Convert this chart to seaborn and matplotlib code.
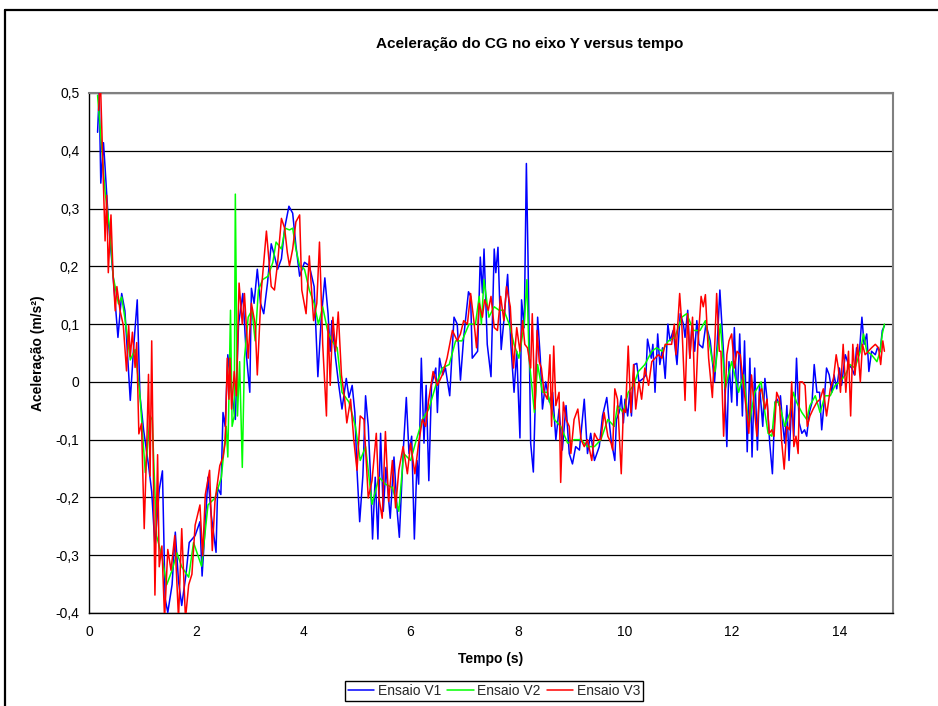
import numpy as np
import pandas as pd
import matplotlib
matplotlib.use("Agg")
import matplotlib.pyplot as plt
from matplotlib.lines import Line2D
import seaborn as sns

# ---------------- data ----------------
title = "Aceleração do CG no eixo Y versus tempo"
x_label = "Tempo (s)"
y_label = "Aceleração (m/s²)"
series_names = ["Ensaio V1", "Ensaio V2", "Ensaio V3"]
series_colors = ["#0000FF", "#00FF00", "#FF0000"]
x_ticks = [0, 2, 4, 6, 8, 10, 12, 14]
y_ticks = [-0.4, -0.3, -0.2, -0.1, 0.0, 0.1, 0.2, 0.3, 0.4, 0.5]

v1_points = [
    (0.16, 0.432), (0.19, 0.499), (0.22, 0.344), (0.27, 0.414), (0.30, 0.371), (0.36, 0.28),
    (0.45, 0.183), (0.54, 0.077), (0.61, 0.153), (0.67, 0.123), (0.77, -0.032), (0.83, 0.056),
    (0.90, 0.142), (0.95, -0.023), (1.02, -0.084), (1.11, -0.144), (1.17, -0.19), (1.23, -0.284),
    (1.31, -0.187), (1.37, -0.154), (1.42, -0.375), (1.47, -0.399), (1.55, -0.351), (1.61, -0.26),
    (1.67, -0.345), (1.73, -0.387), (1.81, -0.333), (1.87, -0.278), (1.98, -0.266), (2.07, -0.242),
    (2.11, -0.336), (2.16, -0.26), (2.22, -0.165), (2.28, -0.23), (2.37, -0.295), (2.40, -0.183),
    (2.46, -0.195), (2.50, -0.053), (2.54, -0.077), (2.59, 0.047), (2.66, -0.018), (2.73, -0.065),
    (2.79, 0.1), (2.87, 0.153), (2.93, 0.053), (3.00, -0.018), (3.03, 0.162), (3.08, 0.136),
    (3.14, 0.195), (3.20, 0.136), (3.26, 0.118), (3.33, 0.171), (3.40, 0.239), (3.46, 0.218),
    (3.52, 0.195), (3.59, 0.213), (3.65, 0.266), (3.73, 0.304), (3.80, 0.292), (3.86, 0.236),
    (3.93, 0.183), (4.02, 0.207), (4.11, 0.201), (4.20, 0.165), (4.27, 0.009), (4.33, 0.106),
    (4.40, 0.18), (4.46, 0.118), (4.50, 0.053), (4.53, 0.106), (4.60, 0.041), (4.66, -0.006),
    (4.72, -0.047), (4.80, 0.006), (4.85, -0.027), (4.91, -0.006), (4.96, -0.053), (5.00, -0.153),
    (5.05, -0.242), (5.11, -0.162), (5.16, -0.024), (5.21, -0.077), (5.25, -0.159), (5.29, -0.272),
    (5.34, -0.165), (5.39, -0.272), (5.44, -0.089), (5.49, -0.224), (5.54, -0.148), (5.62, -0.236),
    (5.69, -0.13), (5.75, -0.224), (5.79, -0.269), (5.86, -0.124), (5.92, -0.027), (5.97, -0.124),
    (6.02, -0.094), (6.07, -0.272), (6.12, -0.136), (6.15, -0.177), (6.20, 0.041), (6.25, -0.106),
    (6.29, -0.006), (6.34, -0.171), (6.39, -0.006), (6.47, 0.024), (6.50, -0.053), (6.54, 0.041),
    (6.60, 0.012), (6.65, 0.024), (6.73, -0.024), (6.81, 0.112), (6.87, 0.1), (6.93, 0.003),
    (6.99, 0.077), (7.08, 0.156), (7.12, 0.148), (7.15, 0.041), (7.25, 0.053), (7.30, 0.216),
    (7.34, 0.154), (7.37, 0.23), (7.43, 0.065), (7.50, 0.009), (7.56, 0.23), (7.59, 0.189),
    (7.63, 0.233), (7.69, 0.056), (7.74, 0.106), (7.81, 0.186), (7.87, 0.065), (7.93, -0.018),
    (7.98, 0.053), (8.04, -0.097), (8.07, 0.142), (8.12, 0.094), (8.16, 0.378), (8.19, 0.218),
    (8.24, -0.106), (8.29, -0.156), (8.34, 0.012), (8.37, 0.112), (8.42, 0.041), (8.46, -0.047),
    (8.52, 0.0), (8.59, -0.035), (8.65, -0.018), (8.71, -0.1), (8.77, -0.047), (8.83, -0.118),
    (8.90, -0.041), (8.96, -0.124), (9.02, -0.142), (9.08, -0.112), (9.15, -0.118), (9.24, -0.03),
    (9.30, -0.124), (9.36, -0.089), (9.43, -0.136), (9.52, -0.112), (9.58, -0.059), (9.66, -0.027),
    (9.74, -0.1), (9.81, -0.136), (9.84, -0.065), (9.89, -0.053), (9.93, -0.024), (9.97, -0.071),
    (10.00, -0.03), (10.05, -0.059), (10.09, -0.018), (10.12, -0.059), (10.17, 0.03), (10.22, 0.032),
    (10.26, 0.0), (10.34, 0.006), (10.39, 0.012), (10.42, 0.074), (10.49, 0.041), (10.52, 0.065),
    (10.56, -0.018), (10.61, 0.083), (10.65, 0.03), (10.70, 0.059), (10.75, 0.006), (10.80, 0.1),
    (10.84, 0.071), (10.90, 0.089), (10.97, 0.03), (11.03, 0.118), (11.09, 0.1), (11.12, 0.077),
    (11.17, 0.124), (11.21, 0.041), (11.25, 0.1), (11.30, 0.053), (11.34, 0.106), (11.38, 0.065),
    (11.45, 0.059), (11.51, 0.1), (11.59, 0.071), (11.67, 0.0), (11.72, 0.065), (11.77, 0.159),
    (11.84, 0.047), (11.90, -0.112), (11.94, 0.035), (11.99, -0.035), (12.04, 0.094), (12.09, -0.041),
    (12.14, 0.083), (12.19, -0.059), (12.23, 0.071), (12.28, -0.121), (12.33, 0.041), (12.37, -0.13),
    (12.42, 0.024), (12.47, -0.118), (12.51, -0.006), (12.57, -0.077), (12.61, 0.006), (12.65, -0.03),
    (12.70, -0.106), (12.75, -0.159), (12.80, -0.035), (12.84, -0.03), (12.88, -0.041), (12.90, -0.024),
    (12.94, -0.071), (12.98, -0.106), (13.02, -0.041), (13.06, -0.136), (13.11, -0.035), (13.15, -0.094),
    (13.20, 0.041), (13.25, -0.071), (13.30, -0.089), (13.35, -0.083), (13.39, -0.094), (13.44, -0.053),
    (13.49, -0.035), (13.53, 0.03), (13.58, -0.018), (13.63, -0.018), (13.67, -0.083), (13.71, -0.041),
    (13.76, 0.024), (13.81, 0.012), (13.86, -0.018), (13.90, 0.012), (13.95, -0.012), (14.00, 0.024),
    (14.04, -0.006), (14.11, 0.047), (14.17, 0.03), (14.23, 0.024), (14.28, 0.012), (14.32, 0.059),
    (14.37, 0.047), (14.42, 0.112), (14.46, 0.065), (14.51, 0.083), (14.55, 0.018), (14.60, 0.053),
    (14.67, 0.047), (14.71, 0.059), (14.76, 0.053), (14.80, 0.089), (14.84, 0.097),
]

v2_points = [
    (0.16, 0.496), (0.24, 0.402), (0.30, 0.329), (0.39, 0.262), (0.45, 0.183), (0.55, 0.135),
    (0.61, 0.147), (0.67, 0.11), (0.77, 0.038), (0.86, 0.056), (0.95, -0.023), (1.05, -0.157),
    (1.14, -0.059), (1.18, -0.066), (1.26, -0.266), (1.36, -0.302), (1.45, -0.351), (1.55, -0.326),
    (1.64, -0.296), (1.73, -0.32), (1.86, -0.338), (1.95, -0.278), (2.10, -0.319), (2.22, -0.213),
    (2.35, -0.201), (2.47, -0.165), (2.56, -0.077), (2.59, -0.13), (2.64, 0.124), (2.67, -0.077),
    (2.71, -0.059), (2.73, 0.325), (2.77, -0.059), (2.81, 0.035), (2.86, -0.148), (2.90, 0.041),
    (2.97, 0.112), (3.04, 0.124), (3.10, 0.071), (3.16, 0.159), (3.24, 0.177), (3.34, 0.183),
    (3.43, 0.207), (3.49, 0.242), (3.59, 0.23), (3.66, 0.266), (3.74, 0.263), (3.80, 0.266),
    (3.86, 0.23), (3.93, 0.201), (4.02, 0.195), (4.11, 0.159), (4.20, 0.136), (4.28, 0.1),
    (4.36, 0.13), (4.45, 0.089), (4.53, 0.071), (4.63, 0.059), (4.72, -0.018), (4.85, -0.035),
    (4.97, -0.077), (5.06, -0.136), (5.16, -0.112), (5.28, -0.212), (5.41, -0.165), (5.53, -0.177),
    (5.66, -0.183), (5.78, -0.224), (5.87, -0.124), (6.00, -0.136), (6.09, -0.106), (6.22, -0.065),
    (6.34, -0.047), (6.47, -0.006), (6.59, 0.024), (6.72, 0.03), (6.84, 0.071), (6.96, 0.071),
    (7.09, 0.1), (7.21, 0.1), (7.28, 0.148), (7.32, 0.1), (7.37, 0.177), (7.46, 0.112),
    (7.56, 0.13), (7.65, 0.124), (7.74, 0.124), (7.84, 0.1), (7.93, 0.065), (8.02, 0.041),
    (8.12, 0.1), (8.17, 0.177), (8.21, 0.041), (8.26, -0.006), (8.31, -0.053), (8.37, 0.03),
    (8.46, -0.018), (8.55, -0.018), (8.68, -0.065), (8.80, -0.077), (8.93, -0.106), (9.05, -0.1),
    (9.18, -0.1), (9.30, -0.112), (9.43, -0.112), (9.55, -0.1), (9.68, -0.065), (9.80, -0.077),
    (9.86, -0.041), (9.97, -0.053), (10.06, -0.018), (10.16, -0.006), (10.25, 0.018), (10.37, 0.03),
    (10.50, 0.053), (10.59, 0.059), (10.69, 0.053), (10.81, 0.071), (10.93, 0.077), (11.06, 0.112),
    (11.15, 0.118), (11.28, 0.089), (11.40, 0.089), (11.50, 0.106), (11.62, 0.041), (11.68, 0.018),
    (11.78, 0.1), (11.87, -0.012), (11.93, 0.012), (11.99, 0.035), (12.12, -0.018), (12.21, 0.012),
    (12.31, -0.077), (12.42, -0.018), (12.54, 0.0), (12.61, -0.053), (12.67, -0.089), (12.74, -0.094),
    (12.80, -0.035), (12.86, -0.035), (12.92, -0.053), (12.98, -0.077), (13.08, -0.053), (13.14, -0.018),
    (13.20, -0.035), (13.30, -0.053), (13.39, -0.065), (13.45, -0.041), (13.55, -0.024), (13.64, -0.053),
    (13.73, -0.024), (13.83, -0.024), (13.92, -0.006), (14.01, 0.0), (14.11, 0.012), (14.20, 0.03),
    (14.29, 0.024), (14.39, 0.053), (14.45, 0.083), (14.51, 0.053), (14.60, 0.047), (14.70, 0.035),
    (14.76, 0.053), (14.80, 0.083), (14.84, 0.1),
]

v3_points = [
    (0.18, 0.47), (0.21, 0.53), (0.25, 0.402), (0.30, 0.244), (0.33, 0.323), (0.36, 0.189),
    (0.41, 0.289), (0.45, 0.183), (0.49, 0.123), (0.52, 0.165), (0.58, 0.123), (0.64, 0.098),
    (0.70, 0.019), (0.74, 0.098), (0.77, 0.044), (0.81, 0.086), (0.86, 0.025), (0.89, 0.068),
    (0.93, -0.09), (0.98, -0.072), (1.03, -0.254), (1.08, -0.102), (1.11, 0.013), (1.14, -0.163),
    (1.17, 0.071), (1.20, -0.144), (1.23, -0.369), (1.28, -0.126), (1.31, -0.32), (1.36, -0.284),
    (1.41, -0.41), (1.47, -0.29), (1.53, -0.326), (1.60, -0.266), (1.67, -0.41), (1.73, -0.254),
    (1.80, -0.41), (1.86, -0.351), (1.92, -0.333), (1.98, -0.248), (2.07, -0.213), (2.12, -0.301),
    (2.17, -0.195), (2.25, -0.153), (2.30, -0.292), (2.35, -0.207), (2.44, -0.145), (2.50, -0.13),
    (2.54, -0.106), (2.58, 0.041), (2.61, -0.03), (2.63, 0.041), (2.66, -0.047), (2.71, 0.018),
    (2.75, -0.024), (2.80, 0.171), (2.86, 0.1), (2.90, 0.153), (2.97, 0.041), (3.03, 0.136),
    (3.10, 0.1), (3.14, 0.012), (3.21, 0.153), (3.31, 0.261), (3.35, 0.218), (3.40, 0.165),
    (3.46, 0.159), (3.52, 0.207), (3.59, 0.283), (3.65, 0.266), (3.70, 0.224), (3.74, 0.201),
    (3.80, 0.23), (3.86, 0.277), (3.93, 0.289), (3.97, 0.159), (4.05, 0.118), (4.11, 0.218),
    (4.19, 0.106), (4.25, 0.136), (4.30, 0.242), (4.36, 0.065), (4.43, -0.059), (4.46, 0.1),
    (4.50, -0.006), (4.55, 0.112), (4.60, 0.053), (4.65, 0.121), (4.71, 0.012), (4.77, -0.03),
    (4.81, -0.071), (4.88, -0.03), (4.94, -0.1), (5.00, -0.153), (5.06, -0.059), (5.13, -0.065),
    (5.21, -0.201), (5.28, -0.171), (5.36, -0.089), (5.41, -0.201), (5.47, -0.236), (5.53, -0.086),
    (5.59, -0.207), (5.66, -0.136), (5.72, -0.218), (5.78, -0.153), (5.86, -0.112), (5.94, -0.159),
    (6.00, -0.106), (6.08, -0.159), (6.15, -0.106), (6.22, -0.065), (6.28, -0.077), (6.34, -0.03),
    (6.42, 0.018), (6.50, -0.006), (6.59, 0.012), (6.68, 0.041), (6.78, 0.089), (6.87, 0.071),
    (6.93, 0.083), (6.99, 0.106), (7.06, 0.1), (7.12, 0.153), (7.18, 0.106), (7.23, 0.059),
    (7.28, 0.136), (7.34, 0.112), (7.38, 0.142), (7.45, 0.124), (7.50, 0.148), (7.56, 0.094),
    (7.62, 0.089), (7.68, 0.148), (7.74, 0.106), (7.79, 0.165), (7.86, 0.13), (7.92, 0.024),
    (7.98, 0.094), (8.04, 0.053), (8.09, 0.106), (8.13, 0.065), (8.18, 0.059), (8.24, 0.024),
    (8.27, 0.118), (8.32, -0.047), (8.36, 0.089), (8.40, 0.035), (8.44, 0.024), (8.49, -0.018),
    (8.55, -0.03), (8.60, 0.047), (8.63, -0.077), (8.67, 0.062), (8.71, -0.041), (8.77, -0.018),
    (8.80, -0.174), (8.85, -0.035), (8.90, -0.065), (8.96, -0.077), (8.99, -0.124), (9.05, -0.065),
    (9.12, -0.047), (9.18, -0.1), (9.24, -0.112), (9.30, -0.1), (9.38, -0.136), (9.43, -0.089),
    (9.49, -0.1), (9.55, -0.1), (9.61, -0.053), (9.68, -0.094), (9.74, -0.106), (9.77, -0.118),
    (9.81, -0.012), (9.86, -0.03), (9.93, -0.159), (9.97, -0.047), (10.01, -0.053), (10.06, 0.062),
    (10.11, -0.053), (10.16, 0.03), (10.20, -0.047), (10.26, 0.0), (10.31, -0.03), (10.37, 0.024),
    (10.44, -0.006), (10.50, 0.035), (10.56, 0.041), (10.62, 0.047), (10.69, 0.041), (10.75, 0.065),
    (10.81, 0.065), (10.87, 0.065), (10.92, 0.1), (10.95, 0.047), (11.02, 0.153), (11.06, 0.1),
    (11.12, -0.032), (11.17, 0.118), (11.21, 0.041), (11.26, 0.112), (11.31, -0.05), (11.36, 0.065),
    (11.42, 0.148), (11.46, 0.13), (11.50, 0.151), (11.56, 0.041), (11.63, -0.027), (11.68, 0.077),
    (11.71, 0.153), (11.76, 0.053), (11.79, 0.053), (11.84, -0.094), (11.90, 0.047), (11.94, 0.071),
    (11.99, 0.083), (12.04, 0.024), (12.09, 0.053), (12.15, 0.047), (12.21, -0.006), (12.27, -0.053),
    (12.31, -0.089), (12.36, 0.012), (12.42, -0.053), (12.46, -0.094), (12.51, -0.018), (12.55, -0.012),
    (12.61, -0.047), (12.65, -0.03), (12.69, -0.089), (12.74, -0.083), (12.78, -0.094), (12.83, -0.018),
    (12.88, -0.03), (12.92, -0.1), (12.97, -0.151), (13.02, -0.077), (13.07, -0.083), (13.11, 0.0),
    (13.15, -0.112), (13.19, -0.094), (13.23, -0.124), (13.26, 0.0), (13.31, 0.0), (13.36, -0.006),
    (13.40, -0.077), (13.45, -0.059), (13.51, -0.047), (13.58, -0.035), (13.64, -0.03), (13.70, -0.012),
    (13.76, -0.059), (13.83, -0.012), (13.89, 0.006), (13.94, 0.047), (13.98, 0.024), (14.02, -0.018),
    (14.07, 0.065), (14.12, -0.018), (14.17, 0.053), (14.21, -0.059), (14.25, 0.065), (14.29, 0.012),
    (14.34, 0.065), (14.39, 0.0), (14.43, 0.065), (14.48, 0.047), (14.54, 0.053), (14.60, 0.059),
    (14.67, 0.065), (14.73, 0.059), (14.77, 0.03), (14.81, 0.071), (14.84, 0.053),
]

# ---------------- build data frame ----------------
frames = []
for name, pts in zip(series_names, [v1_points, v2_points, v3_points]):
    t, a = zip(*pts)
    frames.append(pd.DataFrame({"Tempo": t, "Acel": a, "Serie": name}))
df = pd.concat(frames, ignore_index=True)

# ---------------- style ----------------
sns.set_style("white")
plt.rcParams["font.family"] = ["Liberation Sans", "DejaVu Sans"]

W, H = 938, 706
fig = plt.figure(figsize=(W / 100, H / 100), dpi=100)
fig.patch.set_facecolor("white")

ax_l, ax_r, ax_t, ax_b = 89, 893, 93, 613
ax = fig.add_axes([ax_l / W, 1 - ax_b / H, (ax_r - ax_l) / W, (ax_b - ax_t) / H])

palette = dict(zip(series_names, series_colors))
sns.lineplot(data=df, x="Tempo", y="Acel", hue="Serie", palette=palette,
             hue_order=series_names, sort=False, estimator=None,
             linewidth=1.1, legend=False, ax=ax, zorder=3)

ax.set_xlim(0, 15)
ax.set_ylim(-0.4, 0.5)
ax.set_xticks(x_ticks)
ax.set_xticklabels([str(v) for v in x_ticks])
ax.set_yticks(y_ticks)
ax.set_yticklabels(["0" if abs(v) < 1e-9 else f"{v:.1f}".replace(".", ",") for v in y_ticks])
ax.set_xlabel("")
ax.set_ylabel("")

ax.yaxis.grid(True, color="black", linewidth=0.9, zorder=1)
ax.xaxis.grid(False)
ax.set_axisbelow(True)

for side in ["left", "bottom"]:
    ax.spines[side].set_color("black")
    ax.spines[side].set_linewidth(1.0)
for side in ["top", "right"]:
    ax.spines[side].set_visible(True)
    ax.spines[side].set_color("#808080")
    ax.spines[side].set_linewidth(1.5)

ax.tick_params(axis="both", direction="out", length=4, width=1, color="black",
               labelsize=10, labelcolor="black", pad=3)
ax.tick_params(axis="x", pad=5)

# ---------------- texts ----------------
fig.text(530 / W, 1 - 44 / H, title, ha="center", va="center",
         fontsize=11, fontweight="bold", color="black")
fig.text(491 / W, 1 - 659 / H, x_label, ha="center", va="center",
         fontsize=10, fontweight="bold", color="black")
fig.text(38 / W, 1 - 353 / H, y_label, ha="center", va="center", rotation=90,
         fontsize=10, fontweight="bold", color="black")

# ---------------- legend ----------------
handles = [Line2D([0], [0], color=c, lw=1.1) for c in series_colors]
leg = fig.legend(handles, series_names, loc="center",
                 bbox_to_anchor=(494 / W, 1 - 691 / H), ncol=3,
                 frameon=True, fancybox=False, framealpha=1, edgecolor="black",
                 fontsize=10, handlelength=1.9, handletextpad=0.25,
                 columnspacing=0.45, borderpad=0.2, borderaxespad=0)
leg.get_frame().set_linewidth(1.0)

# ---------------- outer chart border (top & left) ----------------
fig.add_artist(Line2D([5 / W, 1.0], [1 - 10 / H, 1 - 10 / H], color="black",
                      lw=1.6, transform=fig.transFigure))
fig.add_artist(Line2D([5 / W, 5 / W], [1 - 10 / H, 0.0], color="black",
                      lw=1.6, transform=fig.transFigure))

fig.savefig("out.png", dpi=100, facecolor="white")
